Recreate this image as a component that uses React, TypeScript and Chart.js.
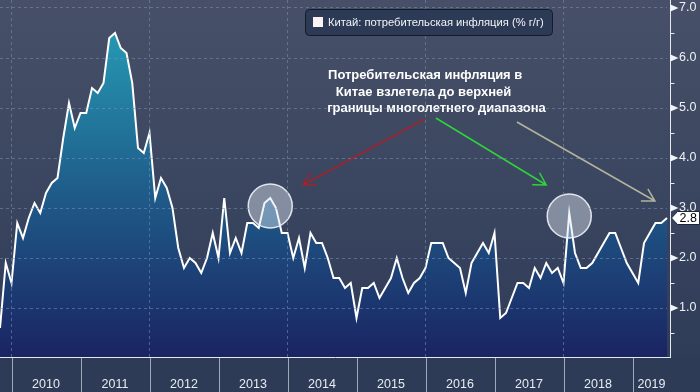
import React, { useEffect, useRef } from 'react';
import { Chart, registerables } from 'chart.js';

Chart.register(...registerables);

// ---- data ----
const startYear = 2009;
const startMonth = 11;
const cpi: number[] = [
  0.6, 1.9,
  1.5, 2.7, 2.4, 2.8, 3.1, 2.9, 3.3, 3.5, 3.6, 4.4, 5.1, 4.6,
  4.9, 4.9, 5.4, 5.3, 5.5, 6.4, 6.5, 6.2, 6.1, 5.5, 4.2, 4.1,
  4.5, 3.2, 3.6, 3.4, 3.0, 2.2, 1.8, 2.0, 1.9, 1.7, 2.0, 2.5,
  2.0, 3.2, 2.1, 2.4, 2.1, 2.7, 2.7, 2.6, 3.1, 3.2, 3.0, 2.5,
  2.5, 2.0, 2.4, 1.8, 2.5, 2.3, 2.3, 2.0, 1.6, 1.6, 1.4, 1.5,
  0.8, 1.4, 1.4, 1.5, 1.2, 1.4, 1.6, 2.0, 1.6, 1.3, 1.5, 1.6,
  1.8, 2.3, 2.3, 2.3, 2.0, 1.9, 1.8, 1.3, 1.9, 2.1, 2.3, 2.1,
  2.5, 0.8, 0.9, 1.2, 1.5, 1.5, 1.4, 1.8, 1.6, 1.9, 1.7, 1.8,
  1.5, 2.9, 2.1, 1.8, 1.8, 1.9, 2.1, 2.3, 2.5, 2.5, 2.2, 1.9,
  1.7, 1.5, 2.3, 2.5, 2.7, 2.7, 2.8,
];
const monthLabels: string[] = [];
for (let i = 0; i < cpi.length; i++) {
  const m = startMonth - 1 + i;
  const y = startYear + Math.floor(m / 12);
  monthLabels.push(`${y}-${String((m % 12) + 1).padStart(2, '0')}`);
}
const yearLabels = ['2010', '2011', '2012', '2013', '2014', '2015', '2016', '2017', '2018', '2019'];
const gridYears = ['2010', '2012', '2014', '2016', '2018'];
const majorTicks = [1, 2, 3, 4, 5, 6, 7];
const minorTicks = [0.5, 1.5, 2.5, 3.5, 4.5, 5.5, 6.5];
const yMin = 0;
const yMax = 7.16;
const seriesLabel = 'Китай: потребительская инфляция (% г/г)';
const noteLines = ['Потребительская инфляция в', 'Китае взлетела до верхней', 'границы многолетнего диапазона'];
const noteAnchors = [
  { idx: 57.05, v: 5.66 },
  { idx: 58.4, v: 5.32 },
  { idx: 56.9, v: 5.0 },
];
const highlights = [
  { label: '2013-10', v: 3.04 },
  { label: '2018-02', v: 2.84 },
];
const arrowDefs = [
  { from: [73.9, 4.78], to: [52.7, 3.46], color: '#a3222d' },
  { from: [75.8, 4.8], to: [95.0, 3.46], color: '#2fd43a' },
  { from: [89.9, 4.72], to: [113.9, 3.14], color: '#b3b39d' },
];

function drawArrow(ctx: CanvasRenderingContext2D, x1: number, y1: number, x2: number, y2: number, color: string) {
  ctx.save();
  ctx.strokeStyle = color;
  ctx.lineWidth = 1.5;
  ctx.beginPath();
  ctx.moveTo(x1, y1);
  ctx.lineTo(x2, y2);
  const a = Math.atan2(y1 - y2, x1 - x2);
  const len = 14;
  const sp = 0.52;
  ctx.moveTo(x2 + len * Math.cos(a + sp), y2 + len * Math.sin(a + sp));
  ctx.lineTo(x2, y2);
  ctx.lineTo(x2 + len * Math.cos(a - sp), y2 + len * Math.sin(a - sp));
  ctx.stroke();
  ctx.restore();
}

const decor = {
  id: 'decor',
  beforeDraw(chart: any) {
    const { ctx, width, height, chartArea } = chart;
    ctx.save();
    const g = ctx.createLinearGradient(0, 0, 0, chartArea.bottom);
    g.addColorStop(0, '#475068');
    g.addColorStop(1, '#2f3c58');
    ctx.fillStyle = g;
    ctx.fillRect(0, 0, width, chartArea.bottom);
    ctx.fillStyle = '#2e3b56';
    ctx.fillRect(0, chartArea.bottom, width, height - chartArea.bottom);
    ctx.restore();
  },
  afterDatasetsDraw(chart: any) {
    const { ctx } = chart;
    const xs = chart.scales.x;
    const ys = chart.scales.y;
    ctx.save();
    highlights.forEach((h) => {
      const cx = xs.getPixelForValue(monthLabels.indexOf(h.label));
      const cy = ys.getPixelForValue(h.v);
      ctx.beginPath();
      ctx.arc(cx, cy, 22, 0, Math.PI * 2);
      ctx.fillStyle = 'rgba(225,230,240,0.45)';
      ctx.fill();
      ctx.lineWidth = 1.5;
      ctx.strokeStyle = 'rgba(240,242,248,0.9)';
      ctx.stroke();
    });
    arrowDefs.forEach((a) => {
      drawArrow(
        ctx,
        xs.getPixelForValue(a.from[0]), ys.getPixelForValue(a.from[1]),
        xs.getPixelForValue(a.to[0]), ys.getPixelForValue(a.to[1]),
        a.color
      );
    });
    ctx.fillStyle = '#ffffff';
    ctx.font = 'bold 13px "Liberation Sans", Arial, sans-serif';
    ctx.textAlign = 'left';
    ctx.textBaseline = 'middle';
    noteLines.forEach((t, i) => {
      ctx.fillText(t, xs.getPixelForValue(noteAnchors[i].idx), ys.getPixelForValue(noteAnchors[i].v));
    });
    ctx.restore();
  },
  afterDraw(chart: any) {
    const { ctx, height, chartArea } = chart;
    const xs = chart.scales.x;
    const ys = chart.scales.y;
    const axisX = chartArea.right + 3.5;
    const axisY = chartArea.bottom - 0.5;
    ctx.save();
    ctx.strokeStyle = '#e6e9ef';
    ctx.lineWidth = 1;
    ctx.beginPath();
    ctx.moveTo(0, axisY);
    ctx.lineTo(axisX + 0.5, axisY);
    ctx.moveTo(axisX, 0);
    ctx.lineTo(axisX, axisY);
    ctx.stroke();
    ctx.beginPath();
    minorTicks.forEach((v) => {
      const y = Math.round(ys.getPixelForValue(v)) + 0.5;
      ctx.moveTo(axisX, y);
      ctx.lineTo(axisX + 4, y);
    });
    ctx.stroke();
    ctx.fillStyle = '#f2f4f8';
    majorTicks.forEach((v) => {
      const y = ys.getPixelForValue(v);
      ctx.beginPath();
      ctx.moveTo(axisX, y - 3.5);
      ctx.lineTo(axisX + 8, y);
      ctx.lineTo(axisX, y + 3.5);
      ctx.closePath();
      ctx.fill();
    });
    const jan = yearLabels.map((y) => xs.getPixelForValue(monthLabels.indexOf(`${y}-01`)));
    ctx.strokeStyle = 'rgba(200,206,218,0.75)';
    ctx.beginPath();
    jan.forEach((x) => {
      const px = Math.round(x) + 0.5;
      ctx.moveTo(px, chartArea.bottom);
      ctx.lineTo(px, height);
    });
    ctx.stroke();
    ctx.fillStyle = '#e8ecf2';
    ctx.font = '12.5px "Liberation Sans", Arial, sans-serif';
    ctx.textAlign = 'center';
    ctx.textBaseline = 'alphabetic';
    yearLabels.forEach((y, i) => {
      const a = jan[i];
      const b = i + 1 < jan.length ? jan[i + 1] : axisX;
      ctx.fillText(y, (a + b) / 2, 388);
    });
    const last = cpi[cpi.length - 1];
    const ly = ys.getPixelForValue(last);
    const bx = axisX + 1;
    ctx.beginPath();
    ctx.moveTo(bx, ly);
    ctx.lineTo(bx + 6, ly - 6.5);
    ctx.lineTo(699.5, ly - 6.5);
    ctx.lineTo(699.5, ly + 6.5);
    ctx.lineTo(bx + 6, ly + 6.5);
    ctx.closePath();
    ctx.fillStyle = '#ffffff';
    ctx.fill();
    ctx.strokeStyle = '#1d2538';
    ctx.stroke();
    ctx.fillStyle = '#000000';
    ctx.font = '12.5px "Liberation Sans", Arial, sans-serif';
    ctx.textAlign = 'left';
    ctx.textBaseline = 'middle';
    ctx.fillText(last.toFixed(1), bx + 8, ly + 0.5);
    const lx = 305.5, lyy = 9.5, lw = 247, lh = 26;
    ctx.beginPath();
    (ctx as any).roundRect(lx, lyy, lw, lh, 4);
    ctx.fillStyle = '#2d3a55';
    ctx.fill();
    ctx.strokeStyle = '#151b2a';
    ctx.lineWidth = 1;
    ctx.stroke();
    ctx.fillStyle = '#fbf3f2';
    ctx.fillRect(313, 17, 10, 10);
    ctx.fillStyle = '#f2f4f8';
    ctx.font = '10px "Liberation Sans", Arial, sans-serif';
    const w = ctx.measureText(seriesLabel).width;
    const fs = Math.min(12.5, (10 * 216) / w);
    ctx.font = `${fs.toFixed(2)}px "Liberation Sans", Arial, sans-serif`;
    ctx.textAlign = 'left';
    ctx.textBaseline = 'middle';
    ctx.fillText(seriesLabel, 328, 23);
    ctx.restore();
  },
};

export default function App() {
  const ref = useRef<HTMLCanvasElement>(null);
  useEffect(() => {
    if (!ref.current) return;
    const chart = new Chart(ref.current, {
      type: 'line',
      data: {
        labels: monthLabels,
        datasets: [
          {
            label: seriesLabel,
            data: cpi,
            borderColor: '#ffffff',
            borderWidth: 2,
            pointRadius: 0,
            tension: 0,
            fill: 'origin',
            backgroundColor: (c: any) => {
              const { chart: ch } = c;
              const area = ch.chartArea;
              if (!area) return '#1f5a88';
              const g = ch.ctx.createLinearGradient(0, 20, 0, area.bottom);
              g.addColorStop(0, '#269db6');
              g.addColorStop(0.5, '#1f5d8b');
              g.addColorStop(1, '#1a2462');
              return g;
            },
          },
        ],
      },
      options: {
        responsive: false,
        animation: false,
        devicePixelRatio: 1,
        layout: { padding: 0 },
        plugins: { legend: { display: false }, tooltip: { enabled: false } },
        scales: {
          x: {
            type: 'category',
            offset: false,
            ticks: { display: false, autoSkip: false },
            grid: {
              z: 1,
              drawTicks: false,
              color: (c: any) => {
                const lab = monthLabels[c.index];
                return lab && lab.endsWith('-01') && gridYears.includes(lab.slice(0, 4))
                  ? 'rgba(120,145,180,0.55)'
                  : 'rgba(0,0,0,0)';
              },
            },
            border: { display: false, dash: [3, 3] },
            afterFit: (s: any) => {
              s.height = 34;
              s.paddingLeft = 0;
              s.paddingRight = 0;
              s.paddingTop = 0;
              s.paddingBottom = 0;
            },
          },
          y: {
            position: 'right',
            min: yMin,
            max: yMax,
            afterBuildTicks: (s: any) => {
              s.ticks = majorTicks.map((v) => ({ value: v }));
            },
            ticks: {
              padding: 12,
              color: '#eef1f5',
              font: { family: '"Liberation Sans", Arial, sans-serif', size: 12.5 },
              callback: (v: any) => Number(v).toFixed(1),
            },
            grid: { z: 1, drawTicks: false, color: 'rgba(120,145,180,0.55)' },
            border: { display: false, dash: [3, 3] },
            afterFit: (s: any) => {
              s.width = 33;
              s.paddingTop = 0;
              s.paddingBottom = 0;
              s.paddingLeft = 0;
              s.paddingRight = 0;
            },
          },
        },
      },
      plugins: [decor],
    });
    return () => chart.destroy();
  }, []);
  return (
    <div style={{ position: 'absolute', left: 0, top: 0, width: 700, height: 392 }}>
      <canvas ref={ref} width={700} height={392} style={{ display: 'block' }} />
    </div>
  );
}
